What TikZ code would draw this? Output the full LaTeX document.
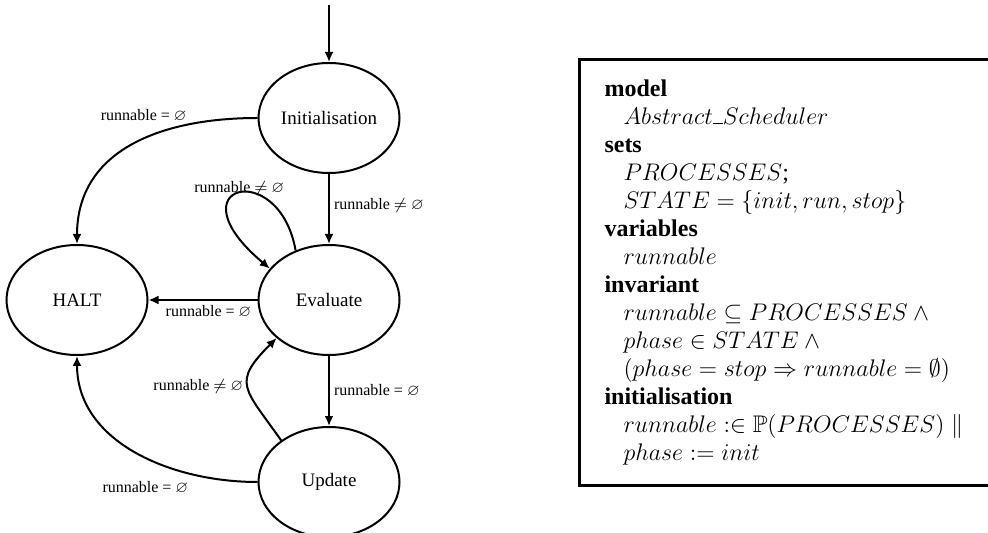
\documentclass[tikz,border=0pt]{standalone}
\usepackage{amsmath}
\usepackage{amssymb}
\usepackage{fontspec}
\setmainfont{Liberation Serif}
\usetikzlibrary{positioning,shapes.geometric,arrows.meta}

\tikzset{
	state/.style={ellipse, draw, line width=1pt, minimum width=70.5pt, minimum height=55pt, inner sep=0pt, font=\fontsize{9.5}{11}\selectfont},
	trans/.style={-{Latex[length=5pt,width=4.5pt]}, line width=1pt},
	guard/.style={font=\fontsize{8}{9.6}\selectfont, inner sep=2pt},
	machine/.style={draw, line width=1.5pt, anchor=north west, minimum height=213pt, text width=200pt, inner xsep=12.5pt, align=left, font=\fontsize{12}{14}\selectfont}
}

\begin{document}
\begin{tikzpicture}[x=0.5pt, y=0.5pt, node distance=35pt and 54.5pt]
	\clip (0,0) rectangle (988,-533);
	
	\node[state](eval) at (329,-300){Evaluate};
	\node[state, above = of eval](init){Initialisation};
	\node[state, below = of eval](update){Update};
	\node[state, left = of eval](halt){HALT};
	\coordinate[above = 28.5pt of init](start);
	
	\draw[trans] (start) -- (init);
	\draw[trans] (init) -- node[guard, right, pos=0.45]{runnable $\neq$ $\varnothing$} (eval);
	\draw[trans] (eval) -- node[guard, right]{runnable = $\varnothing$} (update);
	\draw[trans] (eval) -- node[guard, below, pos=0.45]{runnable = $\varnothing$} (halt);
	\draw[trans] (init.west) to[out=180, in=90, looseness=1.1] node[guard, pos=0.25, above left, inner sep=1pt]{runnable = $\varnothing$} (halt.north);
	\draw[trans] (update.west) to[out=180, in=270] node[guard, pos=0.25, below left, yshift=-1pt]{runnable = $\varnothing$} (halt.south);
	\draw[trans] (update.139) to[out=125, in=225, looseness=1.6] node[guard, left]{runnable $\neq$ $\varnothing$} (eval.216);
	\draw[trans] (eval.124) to[out=100, in=140, out distance=47.5pt, in distance=65pt] node[guard, pos=0.5, above, inner sep=0pt, yshift=-2pt]{runnable $\neq$ $\varnothing$} (eval.152);
	
	\node[machine](spec) at (578,-58){%
		\textbf{model}\\
		\hspace*{9.5pt}$Abstract\rule{5pt}{0.9pt}Scheduler$\\
		\textbf{sets}\\
		\hspace*{9.5pt}$PROCESSES$;\\
		\hspace*{9.5pt}$STATE = \{init, run, stop\}$\\
		\textbf{variables}\\
		\hspace*{9.5pt}$runnable$\\
		\textbf{invariant}\\
		\hspace*{9.5pt}$runnable \subseteq PROCESSES \wedge{}$\\
		\hspace*{9.5pt}$phase \in STATE \wedge{}$\\
		\hspace*{9.5pt}$(phase = stop \Rightarrow runnable = \emptyset)$\\
		\textbf{initialisation}\\
		\hspace*{9.5pt}$runnable :\in \mathbb{P}(PROCESSES) \parallel$\\
		\hspace*{9.5pt}$phase := init$};
\end{tikzpicture}
\end{document}
